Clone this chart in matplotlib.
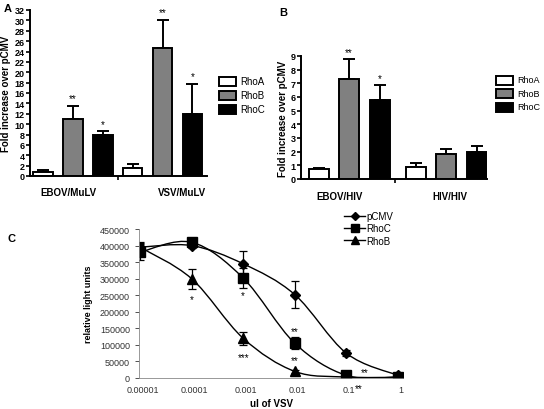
import matplotlib
matplotlib.use("Agg")
import matplotlib.pyplot as plt
from matplotlib.path import Path
from matplotlib.patches import PathPatch
import numpy as np

plt.rcParams['font.family'] = ['Liberation Sans', 'DejaVu Sans']

# panel A data
a_groups = ["EBOV/MuLV", "VSV/MuLV"]
a_rhoA = [0.8, 1.6]
a_rhoA_err = [0.3, 0.7]
a_rhoB = [11.0, 24.6]
a_rhoB_err = [2.5, 5.5]
a_rhoC = [8.0, 11.9]
a_rhoC_err = [0.6, 5.9]
a_stars = [["", "**", "*"], ["", "**", "*"]]

# panel B data
b_groups = ["EBOV/HIV", "HIV/HIV"]
b_rhoA = [0.7, 0.85]
b_rhoA_err = [0.12, 0.35]
b_rhoB = [7.35, 1.8]
b_rhoB_err = [1.4, 0.4]
b_rhoC = [5.8, 2.0]
b_rhoC_err = [1.1, 0.4]
b_stars = [["", "**", "*"], ["", "", ""]]

# panel C data
c_doses = ["0.00001", "0.0001", "0.001", "0.01", "0.1", "1"]
c_pcmv = [395000, 400000, 345000, 252000, 75000, 8000]
c_pcmv_err = [15000, 6000, 38000, 42000, 10000, 3000]
c_rhoC = [380000, 410000, 302000, 105000, 8000, 3000]
c_rhoC_err = [25000, 5000, 30000, 18000, 3000, 2000]
c_rhoB = [395000, 300000, 120000, 20000, 3000, 2000]
c_rhoB_err = [12000, 30000, 20000, 5000, 2000, 1000]

W, H = 544, 410
fig = plt.figure(figsize=(W / 100, H / 100), dpi=100)


def px_axes(x0, y0, x1, y1):
    # pixel box (left, top, right, bottom) -> figure fraction
    return fig.add_axes([x0 / W, 1 - y1 / H, (x1 - x0) / W, (y1 - y0) / H])


def bar_panel(ax, groups, series, errs, stars, spacing, width, ymax, ystep, xlim, midtick, label_x):
    colors = ["white", "#808080", "black"]
    x = np.arange(len(groups))
    for i in range(3):
        pos = x + (i - 1) * spacing
        ax.bar(pos, series[i], width, color=colors[i], edgecolor="black", linewidth=1.4, zorder=2)
        ax.errorbar(pos, series[i], yerr=[np.zeros(len(groups)), errs[i]], fmt="none",
                    ecolor="black", elinewidth=1.4, capsize=4.5, capthick=1.4, zorder=1)
        for j in range(len(groups)):
            if stars[j][i]:
                ax.text(pos[j], series[i][j] + errs[i][j] + ymax * 0.015, stars[j][i],
                        ha="center", va="bottom", fontsize=7)
    ax.set_xlim(*xlim)
    ax.set_ylim(0, ymax)
    ax.set_yticks(np.arange(0, ymax + 0.01, ystep))
    ax.set_xticks([midtick])
    ax.set_xticklabels([""])
    ax.tick_params(axis="x", length=3, width=1.2)
    ax.tick_params(axis="y", length=3, width=1.2, labelsize=6.5, pad=1)
    for t in ax.get_yticklabels():
        t.set_fontweight("bold")
    for s in ["top", "right"]:
        ax.spines[s].set_visible(False)
    for s in ["left", "bottom"]:
        ax.spines[s].set_linewidth(1.4)
    ax.set_ylabel("Fold increase over pCMV", fontsize=7, fontweight="bold", labelpad=2)
    for g, lx in zip(groups, label_x):
        fig.text(lx[0] / W, 1 - lx[1] / H, g, ha="center", va="center", fontsize=7, fontweight="bold")


def bar_legend(x, y0, dy, fs):
    colors = ["white", "#808080", "black"]
    names = ["RhoA", "RhoB", "RhoC"]
    for i in range(3):
        yy = y0 + i * dy
        fig.patches.append(plt.Rectangle((x / W, 1 - (yy + 4.5) / H), 17 / W, 9 / H,
                                         transform=fig.transFigure, facecolor=colors[i],
                                         edgecolor="black", linewidth=1.4))
        fig.text((x + 21) / W, 1 - yy / H, names[i], va="center", ha="left", fontsize=fs)


# panel A
axA = px_axes(30, 11, 207, 177)
bar_panel(axA, a_groups, [a_rhoA, a_rhoB, a_rhoC], [a_rhoA_err, a_rhoB_err, a_rhoC_err], a_stars,
          0.335, 0.223, 32, 2, (-0.48, 1.497), 0.503, [(68, 193), (182, 193)])
bar_legend(219, 82, 14, 7)

# panel B
axB = px_axes(301, 57, 487, 180)
bar_panel(axB, b_groups, [b_rhoA, b_rhoB, b_rhoC], [b_rhoA_err, b_rhoB_err, b_rhoC_err], b_stars,
          0.314, 0.206, 9, 1, (-0.495, 1.42), 0.474, [(340, 197), (450, 197)])
bar_legend(496, 81, 13.5, 6.5)

fig.text(8 / W, 1 - 9 / H, "A", fontsize=8, fontweight="bold", va="center", ha="center")
fig.text(283 / W, 1 - 13 / H, "B", fontsize=8, fontweight="bold", va="center", ha="center")
fig.text(12 / W, 1 - 239 / H, "C", fontsize=8, fontweight="bold", va="center", ha="center")


# panel C
def smooth_path(xs, ys):
    # Catmull-Rom style smoothing like a spreadsheet "smoothed line"
    pts = np.column_stack([xs, ys]).astype(float)
    verts = [pts[0]]
    codes = [Path.MOVETO]
    n = len(pts)
    for i in range(n - 1):
        p0 = pts[i - 1] if i > 0 else pts[i]
        p1 = pts[i]
        p2 = pts[i + 1]
        p3 = pts[i + 2] if i + 2 < n else pts[i + 1]
        c1 = p1 + (p2 - p0) / 6.0
        c2 = p2 - (p3 - p1) / 6.0
        verts += [c1, c2, p2]
        codes += [Path.CURVE4] * 3
    return Path(verts, codes)


axC = px_axes(139, 230, 403, 379)
xi = np.arange(len(c_doses))
series_c = [(c_pcmv, c_pcmv_err, "D", "pCMV", 5.5),
            (c_rhoC, c_rhoC_err, "s", "RhoC", 6.5),
            (c_rhoB, c_rhoB_err, "^", "RhoB", 7)]
for vals, err, mk, name, ms in series_c:
    axC.add_patch(PathPatch(smooth_path(xi, vals), facecolor="none", edgecolor="black", linewidth=1.0))
    axC.errorbar(xi, vals, yerr=err, fmt="none", ecolor="black", elinewidth=0.9, capsize=3, capthick=0.9)
    axC.plot(xi, vals, linestyle="none", marker=mk, color="black", markersize=ms)
    axC.plot([], [], color="black", linewidth=1.0, marker=mk, markersize=ms - 1, label=name)

stars_c = [(1, 237000, "*"), (2, 250000, "*"), (3, 141000, "**"), (2, 62000, "***"),
           (3, 55000, "**"), (4.35, 18000, "**"), (4.25, -30000, "**")]
for sx, sy, st in stars_c:
    axC.text(sx, sy, st, ha="center", va="center", fontsize=7, clip_on=False)

axC.set_xlim(-0.02, 5.1)
axC.set_ylim(0, 450000)
axC.set_yticks(np.arange(0, 450001, 50000))
axC.set_xticks(xi + 0.06)
axC.set_xticklabels(c_doses)
axC.tick_params(axis="both", labelsize=6.5, length=3, width=0.6, colors="#333333")
axC.tick_params(axis="x", length=0, pad=5)
for s in ["top", "right"]:
    axC.spines[s].set_visible(False)
for s in ["left", "bottom"]:
    axC.spines[s].set_linewidth(0.6)
    axC.spines[s].set_color("#888888")
axC.set_ylabel("relative light units", fontsize=6.5, fontweight="bold", labelpad=5)
axC.set_xlabel("ul of VSV", fontsize=7, fontweight="bold", labelpad=3)
axC.legend(loc="upper left", bbox_to_anchor=(344 / W, 1 - 212 / H), bbox_transform=fig.transFigure,
           frameon=False, fontsize=7, handlelength=2.2, handletextpad=0.1, labelspacing=0.25,
           borderpad=0, borderaxespad=0)

fig.savefig("out.png", dpi=100)
